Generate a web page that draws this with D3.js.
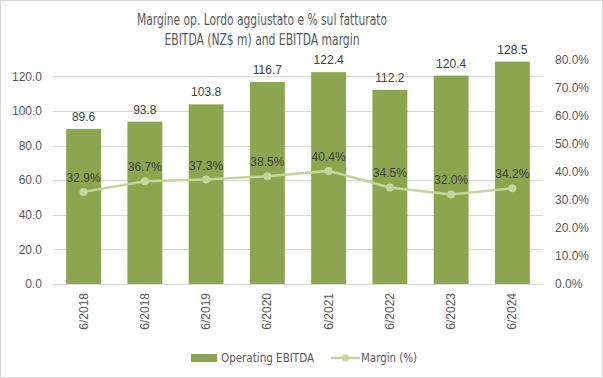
<!DOCTYPE html>
<html><head><meta charset="utf-8">
<script src="https://cdn.jsdelivr.net/npm/d3@7"></script>
<style>body{margin:0;background:#fff}svg{display:block}</style>
</head><body>
<script>
const categories = ["6/2018","6/2018","6/2019","6/2020","6/2021","6/2022","6/2023","6/2024"];
const ebitda = [89.6,93.8,103.8,116.7,122.4,112.2,120.4,128.5];
const margin = [32.9,36.7,37.3,38.5,40.4,34.5,32.0,34.2];
const leftTicks = [0,20,40,60,80,100,120];
const rightTicks = [0,10,20,30,40,50,60,70,80];
const titleLines = ["Margine op. Lordo aggiustato e % sul fatturato","EBITDA (NZ$ m) and EBITDA margin"];
const titleWidths = [250,195];

const W=603,H=378;
const svg=d3.select("body").append("svg").attr("width",W).attr("height",H);
svg.append("rect").attr("x",0.5).attr("y",0.5).attr("width",W-1).attr("height",H-1).attr("fill","#fff").attr("stroke","#d9d9d9");
const narrow="'DejaVu Sans Condensed','Liberation Sans',sans-serif";
const reg="'Liberation Sans',Arial,sans-serif";

const x0=53,x1=543,yb=284,yt=59;
const x=d3.scaleBand().domain(d3.range(categories.length)).range([x0,x1]).paddingInner(0.43).paddingOuter(0.215);
const yL=d3.scaleLinear().domain([0,130]).range([yb,yt]);
const yR=d3.scaleLinear().domain([0,80]).range([yb,yt+1]);

// gridlines
svg.append("g").selectAll("line").data(leftTicks.slice(1)).join("line")
 .attr("x1",x0).attr("x2",x1).attr("y1",d=>Math.round(yL(d))+0.5).attr("y2",d=>Math.round(yL(d))+0.5)
 .attr("stroke","#d9d9d9");

// left axis
const ga=svg.append("g").attr("transform",`translate(${x0},0)`)
 .call(d3.axisLeft(yL).tickValues(leftTicks).tickFormat(d3.format(".1f")).tickSize(0).tickPadding(11));
ga.select(".domain").remove();
ga.selectAll("text").attr("font-family",reg).attr("font-size",12).attr("fill","#595959");

const gr=svg.append("g").attr("transform",`translate(${x1},0)`)
 .call(d3.axisRight(yR).tickValues(rightTicks).tickFormat(d=>d.toFixed(1)+"%").tickSize(0).tickPadding(12));
gr.select(".domain").remove();
gr.selectAll("text").attr("font-family",reg).attr("font-size",12).attr("fill","#595959");

// bars
svg.append("g").selectAll("rect").data(ebitda).join("rect")
 .attr("x",(d,i)=>x(i)).attr("width",x.bandwidth())
 .attr("y",d=>yL(d)).attr("height",d=>yb-yL(d)).attr("fill","#8BA64F");

// baseline
svg.append("line").attr("x1",x0).attr("x2",x1).attr("y1",yb+0.5).attr("y2",yb+0.5).attr("stroke","#d9d9d9");

// bar labels
svg.append("g").selectAll("text").data(ebitda).join("text")
 .attr("x",(d,i)=>x(i)+x.bandwidth()/2).attr("y",d=>yL(d)-8)
 .attr("text-anchor","middle").attr("font-family",reg).attr("font-size",12).attr("fill","#404040")
 .text(d=>d.toFixed(1));

// line
const cx=i=>x(i)+x.bandwidth()/2;
svg.append("path").datum(margin).attr("fill","none").attr("stroke","#C3D69B").attr("stroke-width",2.5)
 .attr("d",d3.line().x((d,i)=>cx(i)).y(d=>yR(d)));
svg.append("g").selectAll("circle").data(margin).join("circle")
 .attr("cx",(d,i)=>cx(i)).attr("cy",d=>yR(d)).attr("r",4).attr("fill","#C3D69B");
svg.append("g").selectAll("text").data(margin).join("text")
 .attr("x",(d,i)=>cx(i)).attr("y",d=>yR(d)-10)
 .attr("text-anchor","middle").attr("font-family",reg).attr("font-size",12).attr("fill","#404040")
 .text(d=>d.toFixed(1)+"%");

// x labels
svg.append("g").selectAll("text").data(categories).join("text")
 .attr("transform",(d,i)=>`translate(${cx(i)+4},293) rotate(-90)`)
 .attr("text-anchor","end").attr("font-family",reg).attr("font-size",12).attr("fill","#595959")
 .text(d=>d);

// title
svg.append("g").selectAll("text").data(titleLines).join("text")
 .attr("x",262).attr("y",(d,i)=>25+i*20).attr("text-anchor","middle")
 .attr("textLength",(d,i)=>titleWidths[i]).attr("lengthAdjust","spacingAndGlyphs")
 .attr("font-family",narrow).attr("font-size",15).attr("fill","#595959").text(d=>d);

// legend
const lg=svg.append("g");
lg.append("rect").attr("x",191).attr("y",354).attr("width",26).attr("height",8).attr("fill","#8BA64F");
lg.append("text").attr("x",221).attr("y",362).attr("font-family",narrow).attr("font-size",13).attr("fill","#595959")
 .attr("textLength",93).attr("lengthAdjust","spacingAndGlyphs").text("Operating EBITDA");
lg.append("line").attr("x1",331).attr("x2",360).attr("y1",358).attr("y2",358).attr("stroke","#C3D69B").attr("stroke-width",2.5);
lg.append("circle").attr("cx",345.5).attr("cy",358).attr("r",3.5).attr("fill","#C3D69B");
lg.append("text").attr("x",361).attr("y",362).attr("font-family",narrow).attr("font-size",13).attr("fill","#595959")
 .attr("textLength",56).attr("lengthAdjust","spacingAndGlyphs").text("Margin (%)");
</script>
</body></html>
